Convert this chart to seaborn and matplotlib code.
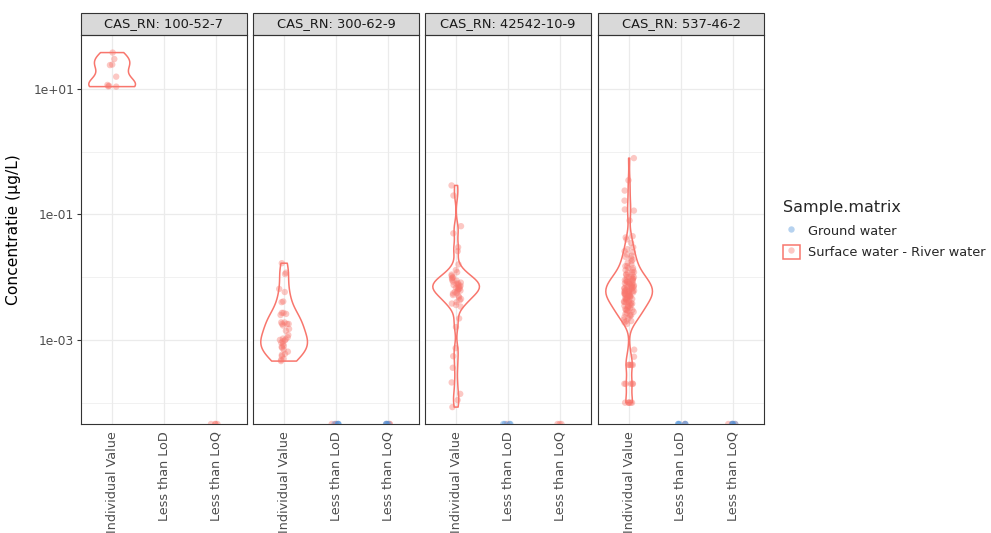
import numpy as np
import pandas as pd
import matplotlib
matplotlib.use("Agg")
import matplotlib.pyplot as plt
import seaborn as sns
from matplotlib.patches import Rectangle
from matplotlib.lines import Line2D
from matplotlib.ticker import FixedLocator, NullFormatter

# ---------------- data ----------------
cas_ids = ["100-52-7", "300-62-9", "42542-10-9", "537-46-2"]
categories = ["Individual Value", "Less than LoD", "Less than LoQ"]
matrices = ["Ground water", "Surface water - River water"]

# measured concentrations (surface water, "Individual Value")
vals_100_52_7 = [38, 30, 24, 24.5, 15.7, 10.9, 11.0, 11.2, 11.6]
vals_300_62_9 = [0.0167, 0.0118, 0.0112, 0.0065, 0.0058, 0.0040, 0.0041, 0.0027,
                 0.0026, 0.0027, 0.0025, 0.0019, 0.0018, 0.0018, 0.0019, 0.0017,
                 0.0018, 0.0015, 0.0014, 0.0012, 0.0011, 0.00105, 0.0010, 0.00102,
                 0.00098, 0.00095, 0.0009, 0.00085, 0.0008, 0.00078, 0.00075, 0.0007,
                 0.00065, 0.0006, 0.00058, 0.00055, 0.0005, 0.00048, 0.00046]
vals_42542_10_9 = [0.29, 0.20, 0.065, 0.050, 0.030, 0.026, 0.016,
                   0.013, 0.012, 0.011, 0.0105, 0.010, 0.0098, 0.0095, 0.009, 0.0088,
                   0.0085, 0.0082, 0.008, 0.0078, 0.0076, 0.0075, 0.0073, 0.0071, 0.007,
                   0.0068, 0.0066, 0.0065, 0.0063, 0.0061, 0.006, 0.0058, 0.0056, 0.0055,
                   0.0052, 0.005, 0.0048, 0.0045, 0.0043, 0.004, 0.0038, 0.0036,
                   0.0034, 0.0022, 0.0016, 0.00074, 0.00055, 0.00036, 0.00021,
                   0.000138, 0.00011, 0.000085]
vals_537_46_2 = [0.79, 0.35, 0.24, 0.166, 0.12, 0.115, 0.08, 0.045, 0.043, 0.040,
                 0.035, 0.030, 0.028, 0.026, 0.025, 0.023, 0.022, 0.021,
                 0.020, 0.019, 0.018, 0.017, 0.016, 0.015, 0.015, 0.014, 0.014, 0.013,
                 0.013, 0.012, 0.012, 0.012, 0.011, 0.011, 0.011, 0.010, 0.010, 0.010,
                 0.010, 0.0095, 0.0095, 0.009, 0.009, 0.009, 0.0088, 0.0085, 0.0085,
                 0.0082, 0.008, 0.008, 0.008, 0.0078, 0.0076, 0.0075, 0.0074, 0.0072,
                 0.007, 0.007, 0.007, 0.0068, 0.0067, 0.0066, 0.0065, 0.0064, 0.0063,
                 0.0062, 0.0061, 0.006, 0.006, 0.006, 0.0059, 0.0058, 0.0057, 0.0056,
                 0.0055, 0.0055, 0.0054, 0.0053, 0.0052, 0.0051, 0.005, 0.005, 0.005,
                 0.0049, 0.0048, 0.0047, 0.0046, 0.0045, 0.0045, 0.0044, 0.0043, 0.0042,
                 0.0041, 0.004, 0.004, 0.004, 0.0039, 0.0038, 0.0037, 0.0036, 0.0035,
                 0.0035, 0.0034, 0.0033, 0.0032, 0.0031, 0.003, 0.003, 0.003, 0.0029,
                 0.0028, 0.0027, 0.0026, 0.0025, 0.0025, 0.0024, 0.0023, 0.0022,
                 0.0021, 0.002, 0.002, 0.0019, 0.0018,
                 0.0007, 0.00054, 0.0004, 0.0004, 0.0004, 0.0004, 0.0004,
                 0.0002, 0.0002, 0.0002, 0.0002, 0.0002,
                 0.0001, 0.0001, 0.0001, 0.0001, 0.0001, 0.0001]
individual_values = [vals_100_52_7, vals_300_62_9, vals_42542_10_9, vals_537_46_2]

# non-detects (value 0 -> -Inf on the log axis), counts per (category, matrix)
nondetects = [
    {("Less than LoQ", "Surface water - River water"): 4},
    {("Less than LoD", "Surface water - River water"): 3, ("Less than LoD", "Ground water"): 4,
     ("Less than LoQ", "Surface water - River water"): 3, ("Less than LoQ", "Ground water"): 4},
    {("Less than LoD", "Surface water - River water"): 1, ("Less than LoD", "Ground water"): 4,
     ("Less than LoQ", "Surface water - River water"): 3},
    {("Less than LoD", "Surface water - River water"): 1, ("Less than LoD", "Ground water"): 5,
     ("Less than LoQ", "Surface water - River water"): 3, ("Less than LoQ", "Ground water"): 4},
]


def nrd0_factor(values):
    """R's bw.nrd0 rule (used by ggplot2), expressed as a scipy-style factor."""
    x = np.log10(np.asarray(values, dtype=float))
    sd = x.std(ddof=1)
    iqr = np.subtract(*np.percentile(x, [75, 25]))
    lo = min(sd, iqr / 1.34) if iqr > 0 else sd
    bw = 0.9 * lo * len(x) ** -0.2
    return bw / sd


# ---------------- style ----------------
red = "#F8766D"
blue = "#4A90D9"
palette = {"Ground water": blue, "Surface water - River water": red}
grid_col = "#EBEBEB"
border_col = "#333333"
text_col = "#4D4D4D"

sns.set_style("white")
plt.rcParams["font.family"] = ["DejaVu Sans"]

W, H = 991, 533
fig = plt.figure(figsize=(W / 100, H / 100), dpi=100)

panel_left_px = [81, 253, 425, 598]
panel_w_px = 166
top_px, bottom_px = 35, 424
strip_px = 22

y_lo, y_hi = 10 ** -4.34, 10 ** 1.86
np.random.seed(3)

for i, cas in enumerate(cas_ids):
    ax = fig.add_axes([panel_left_px[i] / W, 1 - bottom_px / H,
                       panel_w_px / W, (bottom_px - top_px) / H])
    ind = pd.DataFrame({"category": "Individual Value",
                        "matrix": "Surface water - River water",
                        "value": individual_values[i]})
    rows = []
    for (cat, mat), n in nondetects[i].items():
        rows += [{"category": cat, "matrix": mat, "value": 0.0}] * n
    nd = pd.DataFrame(rows)
    df = pd.concat([ind, nd], ignore_index=True)
    # ggplot squishes -Inf onto the panel edge
    df["plot_value"] = np.where(df["value"] > 0, df["value"], y_lo)

    sns.violinplot(data=ind, x="category", y="value", order=categories,
                   log_scale=True, cut=0, inner=None, fill=False, color=red,
                   linewidth=1.1, width=0.9, density_norm="width",
                   bw_method=nrd0_factor(individual_values[i]), ax=ax)
    sns.stripplot(data=df, x="category", y="plot_value", hue="matrix",
                  order=categories, hue_order=matrices, palette=palette,
                  log_scale=True, jitter=0.1, dodge=False, alpha=0.4, size=4.6,
                  linewidth=0, legend=False, ax=ax)

    ax.set_yscale("log")
    ax.set_ylim(y_lo, y_hi)
    ax.set_xlim(-0.6, 2.6)
    ax.yaxis.set_major_locator(FixedLocator([1e-3, 1e-1, 1e1]))
    ax.yaxis.set_minor_locator(FixedLocator([1e-4, 1e-2, 1e0]))
    ax.yaxis.set_minor_formatter(NullFormatter())
    ax.grid(True, which="major", axis="both", color=grid_col, lw=0.9)
    ax.grid(True, which="minor", axis="y", color=grid_col, lw=0.5)
    ax.set_axisbelow(True)
    for s in ax.spines.values():
        s.set_color(border_col)
        s.set_linewidth(0.8)
        s.set_visible(True)
    ax.set_xlabel("")
    ax.set_ylabel("")
    ax.set_xticks(range(len(categories)))
    ax.set_xticklabels(categories, rotation=90, fontsize=9.2, color=text_col)
    ax.tick_params(axis="x", length=3, width=0.8, color=border_col, pad=2)
    ax.tick_params(axis="y", which="minor", length=0)
    if i == 0:
        ax.set_yticklabels(["1e-03", "1e-01", "1e+01"], fontsize=8.8, color=text_col)
        ax.tick_params(axis="y", which="major", length=3, width=0.8,
                       color=border_col, pad=2, left=True)
        ax.set_ylabel("Concentratie (µg/L)", fontsize=11.2, color="black", labelpad=9)
    else:
        ax.tick_params(axis="y", which="both", length=0, labelleft=False)
    # facet strip
    frac = strip_px / (bottom_px - top_px)
    ax.add_patch(Rectangle((0, 1), 1, frac, transform=ax.transAxes, clip_on=False,
                           facecolor="#D9D9D9", edgecolor=border_col, lw=0.8))
    ax.text(0.5, 1 + frac / 2, f"CAS_RN: {cas}", transform=ax.transAxes,
            ha="center", va="center", fontsize=9.4, color="#1A1A1A")

# legend
h_ground = Line2D([], [], marker="o", linestyle="", markerfacecolor=blue,
                  markeredgewidth=0, markersize=4.6, alpha=0.4)
h_box = Rectangle((0, 0), 1, 1, facecolor="white", edgecolor=red, lw=1.1)
h_surf = Line2D([], [], marker="o", linestyle="", markerfacecolor=red,
                markeredgewidth=0, markersize=4.6, alpha=0.4)
leg = fig.legend([h_ground, (h_box, h_surf)], matrices, title="Sample.matrix",
                 loc="upper left", bbox_to_anchor=(783 / W, 1 - 200 / H),
                 frameon=False, fontsize=9.3, title_fontsize=11.5,
                 handlelength=1.3, handleheight=1.3, handletextpad=0.6,
                 labelspacing=0.55, borderpad=0, borderaxespad=0,
                 alignment="left")
leg._legend_box.sep = 6

fig.savefig("out.png", dpi=100)
